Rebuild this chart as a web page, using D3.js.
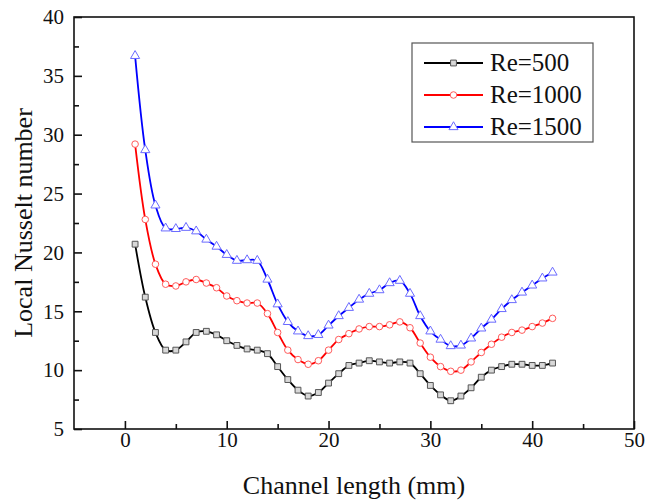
<!DOCTYPE html>
<html>
<head>
<meta charset="utf-8">
<style>
    body { margin: 0; background: #fff; }
    svg { display: block; font-family: "Liberation Serif", "Times New Roman", serif; }
    .axis .domain { display: none; }
    .axis text { font-size: 21px; fill: #111; font-family: "Liberation Serif", serif; }
    .axis line { stroke: #111; stroke-width: 1.6px; }
</style>
</head>
<body>
<svg width="645" height="502"></svg>
<script src="https://d3js.org/d3.v7.min.js"></script>
<script>
    // channel length positions (mm)
    const positions = d3.range(1, 43)

    const re500 = [20.7, 16.2, 13.2, 11.7, 11.7, 12.4, 13.2, 13.3, 13.0, 12.5,
        12.1, 11.8, 11.7, 11.4, 10.3, 9.2, 8.3, 7.8, 8.1, 8.9,
        9.7, 10.4, 10.6, 10.8, 10.7, 10.6, 10.7, 10.6, 9.7, 8.7,
        7.9, 7.4, 7.8, 8.5, 9.4, 10.0, 10.3, 10.5, 10.5, 10.4,
        10.4, 10.6]

    const re1000 = [29.2, 22.8, 19.0, 17.3, 17.15, 17.5, 17.7, 17.4, 17.0, 16.3,
        15.9, 15.7, 15.7, 14.8, 13.2, 11.7, 10.9, 10.5, 10.8, 11.7,
        12.6, 13.1, 13.5, 13.7, 13.7, 13.85, 14.1, 13.6, 12.3, 11.1,
        10.3, 9.9, 10.0, 10.7, 11.5, 12.2, 12.8, 13.2, 13.4, 13.7,
        14.0, 14.4]

    const re1500 = [36.7, 28.7, 24.0, 22.05, 22.0, 22.1, 21.8, 21.1, 20.5, 19.8,
        19.3, 19.35, 19.3, 17.7, 15.6, 14.1, 13.3, 12.9, 13.0, 13.8,
        14.6, 15.3, 16.0, 16.5, 16.8, 17.4, 17.6, 16.5, 14.6, 13.3,
        12.6, 12.05, 12.1, 12.7, 13.55, 14.3, 15.2, 15.96, 16.6, 17.2,
        17.8, 18.3]

    const seriesNames = ["Re=500", "Re=1000", "Re=1500"]
    const xTicks = [0, 10, 20, 30, 40, 50]
    const yTicks = [5, 10, 15, 20, 25, 30, 35, 40]

    const svg = d3.select("svg")
    const margin = { left: 74, right: 634, top: 17, bottom: 429 }

    const x = d3.scaleLinear().domain([-5, 50]).range([margin.left, margin.right])
    const y = d3.scaleLinear().domain([5, 40]).range([margin.bottom, margin.top])

    // minor ticks (inward, shorter)
    svg.append("g")
        .attr("class", "axis")
        .attr("transform", `translate(0,${margin.bottom})`)
        .call(d3.axisTop(x).tickValues(d3.range(5, 50, 10)).tickSize(5).tickFormat(""))
    svg.append("g")
        .attr("class", "axis")
        .attr("transform", `translate(${margin.left},0)`)
        .call(d3.axisRight(y).tickValues(d3.range(7.5, 40, 5)).tickSize(5).tickFormat(""))

    // major ticks, inward, labels outside
    svg.append("g")
        .attr("class", "axis")
        .attr("transform", `translate(0,${margin.bottom})`)
        .call(d3.axisBottom(x).tickValues(xTicks).tickSize(-8).tickPadding(3).tickFormat(d3.format("d")))

    svg.append("g")
        .attr("class", "axis")
        .attr("transform", `translate(${margin.left},0)`)
        .call(d3.axisLeft(y).tickValues(yTicks).tickSize(-8).tickPadding(10))

    // frame
    svg.append("rect")
        .attr("x", margin.left)
        .attr("y", margin.top)
        .attr("width", margin.right - margin.left)
        .attr("height", margin.bottom - margin.top)
        .style("fill", "none")
        .style("stroke", "#111")
        .style("stroke-width", 1.6)

    const styles = [
        { line: "#000", stroke: "#555", fill: "#d8d8d8", shape: d3.symbolSquare, size: 34 },
        { line: "#f00", stroke: "#ff5a5a", fill: "#fff", shape: d3.symbolCircle, size: 34 },
        { line: "#00f", stroke: "#6a6aff", fill: "#fff", shape: d3.symbolTriangle, size: 36 }
    ]
    const allSeries = [re500, re1000, re1500]

    let line = d3.line()
        .x(d => x(d[0]))
        .y(d => y(d[1]))
        .curve(d3.curveCatmullRom.alpha(0.5))

    allSeries.forEach(function (vals, i) {
        let pts = positions.map((p, j) => [p, vals[j]])
        let st = styles[i]
        svg.append("path")
            .attr("d", line(pts))
            .style("fill", "none")
            .style("stroke", st.line)
            .style("stroke-width", 1.8)

        svg.append("g")
            .selectAll("path")
            .data(pts)
            .join("path")
            .attr("transform", d => `translate(${x(d[0])},${y(d[1])})`)
            .attr("d", d3.symbol().type(st.shape).size(st.size))
            .style("fill", st.fill)
            .style("stroke", st.stroke)
            .style("stroke-width", 1)
    })

    // legend
    let legend = svg.append("g")
    legend.append("rect")
        .attr("x", 412).attr("y", 43)
        .attr("width", 181).attr("height", 99)
        .style("fill", "#fff")
        .style("stroke", "#555")
        .style("stroke-width", 1.2)

    seriesNames.forEach(function (name, i) {
        let ly = 63 + i * 32
        let st = styles[i]
        legend.append("line")
            .attr("x1", 424).attr("x2", 483)
            .attr("y1", ly).attr("y2", ly)
            .style("stroke", st.line)
            .style("stroke-width", 1.8)
        legend.append("path")
            .attr("transform", `translate(453.5,${ly})`)
            .attr("d", d3.symbol().type(st.shape).size(st.size))
            .style("fill", st.fill)
            .style("stroke", st.stroke)
            .style("stroke-width", 1)
        legend.append("text")
            .attr("x", 490).attr("y", ly + 8)
            .style("font-size", "25px")
            .style("fill", "#111")
            .text(name)
    })

    // axis titles
    svg.append("text")
        .attr("x", (margin.left + margin.right) / 2)
        .attr("y", 494)
        .attr("text-anchor", "middle")
        .style("font-size", "26px")
        .style("fill", "#111")
        .text("Channel length (mm)")

    svg.append("text")
        .attr("transform", `translate(32,${(margin.top + margin.bottom) / 2}) rotate(-90)`)
        .attr("text-anchor", "middle")
        .style("font-size", "26px")
        .style("fill", "#111")
        .text("Local Nusselt number")
</script>
</body>
</html>
